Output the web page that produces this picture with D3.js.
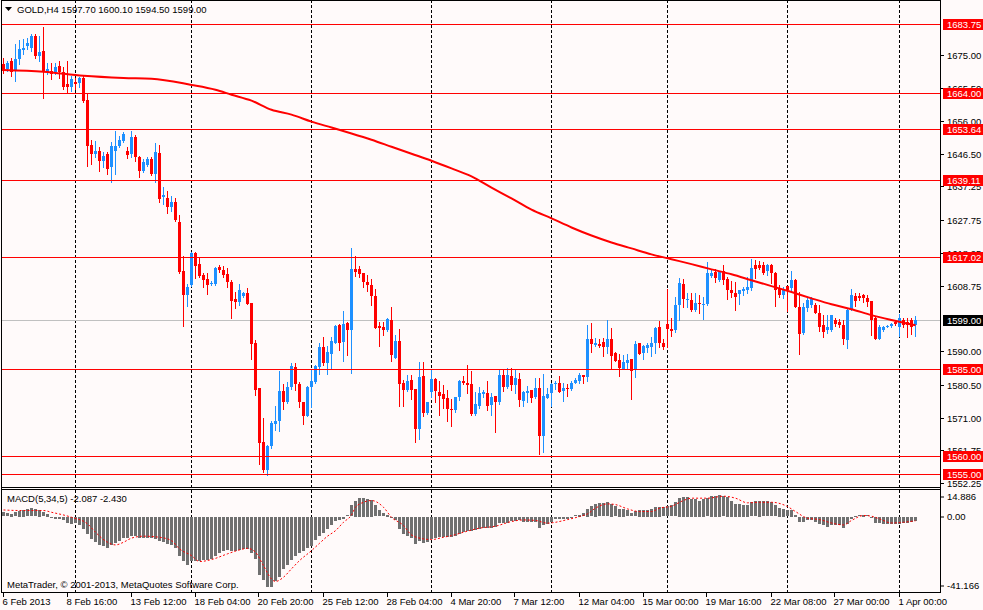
<!DOCTYPE html>
<html>
<head>
<meta charset="utf-8">
<script src="https://cdn.jsdelivr.net/npm/d3@7"></script>
<style>
  body { margin: 0; background: #fffafa; }
  svg { display: block; font-family: "Liberation Sans", Arial, sans-serif; }
</style>
</head>
<body>
<svg id="chart"></svg>
<script>
const width = 983;
const height = 610;

// H4 candles, bar 0 = 6 Feb 2013
const opens = [
  1672.3,1670.8,1673.2,1670.3,1673.7,1676.2,1677.5,1677.0,1680.3,1674.6,
  1676.0,1669.9,1670.3,1669.9,1671.8,1669.9,1666.5,1665.8,1667.2,1666.8,
  1668.4,1662.1,1649.2,1646.6,1647.5,1644.6,1646.4,1642.7,1647.5,1648.9,
  1650.3,1647.5,1646.6,1651.3,1645.6,1641.6,1643.5,1645.1,1640.8,1646.8,
  1634.2,1633.9,1631.3,1632.9,1627.2,1613.0,1606.1,1609.0,1618.2,1615.1,
  1611.8,1610.7,1609.5,1609.2,1614.2,1613.2,1612.1,1609.9,1604.9,1604.2,
  1605.8,1606.6,1603.9,1592.5,1579.4,1564.1,1556.1,1563.0,1569.3,1570.0,
  1578.7,1575.6,1579.9,1585.6,1580.7,1575.4,1571.6,1579.9,1581.3,1585.6,
  1591.2,1586.7,1589.3,1592.5,1597.5,1592.8,1598.2,1596.1,1613.7,1613.5,
  1612.5,1609.9,1609.0,1605.8,1597.3,1597.1,1596.1,1599.0,1588.2,1593.0,
  1580.9,1579.0,1581.8,1579.3,1567.8,1583.0,1572.3,1578.5,1582.1,1578.5,
  1577.8,1576.6,1573.5,1573.1,1576.9,1581.4,1581.0,1580.7,1572.1,1574.4,
  1577.8,1578.2,1574.7,1577.3,1575.4,1583.3,1579.9,1583.0,1580.4,1582.1,
  1575.9,1578.2,1579.0,1577.1,1579.6,1565.7,1576.8,1578.2,1580.7,1581.1,
  1578.8,1579.6,1579.3,1581.1,1581.6,1583.3,1582.8,1593.5,1591.8,1592.1,
  1592.8,1591.2,1593.7,1589.6,1587.5,1585.0,1586.8,1587.8,1584.7,1592.3,
  1589.6,1591.1,1591.3,1592.3,1597.1,1592.5,1597.8,1596.4,1596.1,1603.2,
  1609.4,1604.7,1604.7,1601.8,1603.9,1603.2,1603.5,1611.5,1612.8,1610.4,
  1613.1,1610.6,1607.7,1606.8,1606.4,1607.3,1607.5,1608.3,1614.7,1614.7,
  1614.7,1613.1,1614.7,1612.5,1608.0,1606.1,1608.7,1608.3,1610.4,1602.6,
  1595.2,1602.3,1603.2,1603.2,1601.1,1597.5,1596.1,1596.1,1599.0,1598.5,
  1597.5,1593.3,1601.8,1605.8,1605.8,1606.1,1605.2,1604.5,1599.5,1593.7,
  1596.1,1597.1,1597.3,1598.5,1597.1,1599.0,1598.5,1599.0,1597.7
];
const highs = [
  1674.1,1673.2,1674.1,1678.0,1679.1,1679.4,1679.8,1681.0,1681.0,1680.3,
  1682.9,1672.7,1672.7,1672.7,1673.2,1671.3,1673.2,1668.9,1668.4,1668.6,
  1668.9,1663.7,1650.6,1650.3,1648.4,1647.0,1647.0,1649.9,1653.0,1651.8,
  1652.7,1648.4,1653.0,1652.1,1646.1,1645.1,1645.6,1645.6,1649.6,1649.2,
  1637.2,1635.8,1634.4,1633.8,1629.2,1617.2,1609.4,1618.5,1618.5,1616.9,
  1612.5,1612.5,1610.2,1614.2,1614.7,1614.4,1614.0,1610.4,1607.0,1609.2,
  1607.0,1608.3,1603.9,1593.2,1579.4,1570.9,1563.3,1570.2,1574.4,1584.4,
  1580.7,1581.3,1586.8,1586.6,1581.3,1575.6,1580.1,1584.7,1586.1,1592.3,
  1594.0,1591.5,1594.2,1597.7,1597.8,1601.5,1598.5,1619.6,1617.2,1614.4,
  1612.5,1612.0,1610.6,1608.0,1598.5,1598.5,1599.6,1602.6,1594.7,1596.3,
  1581.8,1583.2,1583.2,1579.3,1586.9,1586.9,1575.4,1585.0,1582.3,1581.4,
  1580.4,1579.0,1576.3,1577.1,1581.8,1583.0,1586.1,1584.4,1578.5,1579.9,
  1579.0,1581.6,1578.2,1577.3,1584.9,1584.7,1585.3,1585.2,1584.9,1583.7,
  1578.7,1580.1,1579.0,1582.3,1582.3,1583.5,1579.5,1580.9,1581.6,1583.0,
  1581.1,1580.7,1581.4,1582.3,1583.9,1583.3,1597.5,1598.2,1593.9,1593.7,
  1593.9,1599.0,1596.6,1589.9,1589.2,1589.0,1589.3,1587.8,1593.1,1592.5,
  1591.8,1592.3,1594.0,1597.1,1598.7,1593.7,1608.0,1599.5,1605.6,1610.9,
  1610.6,1606.6,1606.6,1606.8,1606.1,1605.6,1615.6,1613.7,1613.7,1613.1,
  1614.7,1611.3,1610.2,1609.9,1607.7,1608.5,1611.3,1616.6,1616.3,1615.9,
  1615.6,1615.0,1615.0,1612.8,1609.0,1608.5,1608.7,1613.1,1610.6,1607.1,
  1603.9,1605.6,1605.6,1603.9,1603.2,1600.4,1600.4,1600.4,1599.5,1599.2,
  1599.0,1602.3,1608.0,1606.8,1606.8,1606.4,1606.1,1604.5,1599.9,1597.5,
  1597.3,1597.5,1598.2,1599.0,1600.7,1599.5,1599.5,1599.5,1600.1
];
const lows = [
  1669.8,1670.3,1668.9,1667.5,1672.2,1675.1,1676.5,1676.0,1674.1,1673.2,
  1662.5,1669.4,1668.0,1669.4,1668.4,1665.1,1664.1,1664.6,1665.1,1665.8,
  1661.3,1643.0,1643.7,1645.6,1641.8,1642.7,1640.8,1638.4,1640.8,1648.4,
  1649.9,1645.4,1645.6,1644.6,1639.9,1641.3,1643.2,1640.6,1638.4,1632.7,
  1632.3,1629.6,1630.2,1627.3,1612.5,1597.3,1603.0,1608.6,1610.9,1611.3,
  1608.5,1606.4,1609.0,1609.0,1612.8,1611.3,1608.5,1599.7,1602.3,1603.2,
  1605.6,1603.5,1587.8,1577.6,1557.8,1555.4,1554.7,1562.3,1567.4,1567.3,
  1573.5,1575.2,1579.2,1579.0,1574.2,1569.3,1571.4,1574.2,1580.9,1583.5,
  1586.1,1583.5,1585.3,1592.3,1590.4,1587.3,1589.0,1583.7,1611.5,1611.3,
  1608.5,1607.3,1603.2,1596.6,1591.5,1594.7,1595.9,1587.3,1588.0,1574.5,
  1574.4,1578.8,1576.3,1564.2,1565.0,1571.6,1572.1,1577.1,1575.6,1571.8,
  1573.8,1570.2,1568.7,1572.8,1576.1,1580.7,1578.0,1571.8,1571.8,1573.8,
  1577.1,1573.2,1571.8,1566.8,1575.0,1578.8,1579.4,1579.0,1578.0,1574.5,
  1574.5,1575.6,1575.6,1576.8,1560.7,1561.1,1576.6,1574.4,1579.2,1578.5,
  1575.9,1577.3,1579.0,1580.9,1581.1,1581.1,1581.6,1589.9,1591.5,1591.2,
  1588.7,1589.6,1584.9,1587.3,1583.0,1584.9,1584.9,1576.4,1582.8,1589.3,
  1587.7,1589.9,1588.8,1589.6,1591.3,1590.7,1591.3,1594.4,1595.6,1599.0,
  1602.8,1602.6,1601.6,1601.6,1600.9,1599.3,1603.2,1611.2,1609.9,1610.2,
  1609.4,1604.9,1605.6,1602.0,1603.7,1606.1,1606.8,1607.7,1610.9,1613.7,
  1612.3,1611.8,1609.6,1603.0,1605.6,1605.4,1601.6,1607.7,1602.6,1589.3,
  1595.0,1601.6,1602.6,1600.9,1595.9,1594.0,1595.2,1595.9,1597.3,1597.1,
  1592.1,1590.9,1601.8,1603.0,1604.7,1604.2,1603.0,1594.7,1593.5,1593.5,
  1595.8,1596.9,1597.1,1597.5,1594.4,1597.1,1594.0,1595.0,1594.5
];
const closes = [
  1670.3,1672.7,1669.9,1673.7,1676.5,1677.0,1678.4,1680.3,1674.6,1675.6,
  1670.3,1670.8,1669.4,1671.5,1669.9,1665.8,1665.8,1668.0,1666.5,1668.3,
  1661.8,1648.7,1646.6,1647.5,1644.4,1646.1,1642.3,1648.9,1648.9,1650.5,
  1652.2,1646.3,1651.3,1645.6,1641.6,1644.3,1645.1,1640.8,1647.0,1633.7,
  1634.7,1631.3,1632.9,1627.5,1612.8,1606.1,1608.5,1618.2,1614.4,1611.5,
  1610.4,1609.0,1609.7,1613.9,1613.2,1611.8,1609.9,1604.5,1604.2,1607.5,
  1606.8,1603.5,1592.1,1579.0,1563.9,1556.1,1563.0,1569.6,1570.2,1578.7,
  1575.6,1579.9,1585.8,1580.7,1575.4,1571.6,1579.9,1581.4,1585.8,1591.2,
  1586.6,1589.9,1593.0,1597.3,1592.5,1597.8,1596.1,1613.5,1612.8,1612.1,
  1609.9,1609.0,1605.8,1596.8,1596.8,1596.1,1599.3,1589.0,1593.0,1580.7,
  1579.0,1581.6,1579.0,1567.8,1582.8,1572.3,1575.4,1582.1,1578.8,1577.3,
  1576.3,1573.5,1573.1,1577.1,1581.4,1580.9,1580.4,1572.1,1574.9,1578.0,
  1578.5,1574.4,1577.1,1575.4,1583.3,1579.9,1583.3,1580.4,1582.5,1576.1,
  1578.5,1578.7,1576.8,1579.5,1565.9,1577.3,1577.8,1580.7,1581.1,1578.5,
  1579.6,1579.2,1581.1,1581.8,1583.3,1582.8,1593.5,1592.1,1592.3,1591.5,
  1591.3,1593.7,1588.7,1587.3,1585.4,1587.1,1587.5,1584.5,1592.1,1589.3,
  1591.5,1591.8,1592.5,1596.6,1592.3,1591.3,1596.3,1595.9,1603.2,1609.6,
  1604.9,1604.9,1602.0,1603.9,1603.5,1603.5,1612.5,1612.5,1610.9,1612.8,
  1610.4,1607.7,1606.8,1605.6,1607.5,1608.0,1608.5,1614.0,1613.7,1614.0,
  1612.5,1614.7,1612.5,1607.7,1606.1,1607.5,1607.5,1610.4,1602.6,1595.0,
  1602.6,1604.7,1604.9,1601.1,1596.9,1595.6,1597.1,1600.4,1598.0,1597.5,
  1593.5,1601.8,1606.1,1604.5,1605.2,1605.2,1604.2,1599.0,1593.7,1597.1,
  1597.1,1597.3,1598.0,1597.8,1599.5,1597.5,1597.5,1597.1,1599.0
];

// moving average, read at sample bars
const maIdx = [0,10,20,30,37,47,53,57,62,67,72,77,82,87,92,97,102,107,112,117,122,127,132,137,142,147,152,157,162,167,172,177,182,187,192,197,202,207,212,217,222,228];
const maVal = [1670.6,1670.1,1668.9,1668.3,1668.1,1666.3,1664.9,1663.5,1661.8,1659.2,1657.8,1655.8,1654.1,1652.4,1650.6,1648.6,1646.6,1644.6,1642.4,1640.1,1636.9,1633.8,1630.6,1628.1,1625.5,1623.2,1621.2,1619.5,1617.8,1616.4,1615.0,1613.5,1612.1,1610.4,1608.7,1607.0,1605.2,1603.5,1602.1,1600.4,1599.0,1597.5];

// MACD(5,34,5) main values per bar
const macdHist = [
  2.4,1.9,1.5,2.4,3.2,3.7,4.1,4.7,4.1,3.7,
  2.4,1.5,-0.5,-1.0,-1.3,-1.9,-3.6,-3.7,-3.2,-4.7,
  -6.5,-9.3,-12.5,-14.0,-15.9,-16.3,-17.2,-15.9,-14.8,-13.5,
  -12.0,-11.6,-10.7,-10.7,-11.6,-11.6,-11.6,-11.6,-12.1,-13.5,
  -14.0,-15.3,-15.9,-17.2,-21.9,-24.7,-26.9,-24.7,-24.7,-24.7,
  -24.1,-24.1,-23.7,-21.9,-20.0,-19.1,-18.7,-19.1,-19.1,-18.7,
  -18.1,-18.1,-20.0,-23.4,-32.7,-35.3,-39.3,-39.3,-35.9,-33.5,
  -29.3,-26.9,-24.1,-21.9,-20.0,-19.1,-17.2,-16.3,-12.9,-10.7,
  -8.8,-6.5,-4.7,-2.2,-1.9,-1.3,0.6,6.2,9.0,10.5,
  10.5,9.9,9.3,6.2,3.4,1.9,1.1,-0.7,-1.9,-6.9,
  -9.7,-10.7,-11.6,-15.0,-13.5,-14.4,-14.0,-12.5,-11.6,-11.0,
  -11.0,-11.2,-11.2,-10.7,-9.7,-8.4,-7.9,-7.9,-7.3,-6.5,
  -6.4,-6.0,-6.4,-5.4,-3.6,-3.6,-3.2,-2.2,-2.2,-1.9,
  -2.6,-2.8,-2.8,-2.8,-6.0,-4.7,-4.1,-2.8,-1.3,-1.3,
  -1.3,-1.3,-0.7,0.6,1.1,1.9,4.3,5.8,7.1,7.5,
  7.5,8.0,7.1,5.8,4.3,4.3,3.4,1.9,3.0,3.7,
  3.7,3.9,4.3,5.6,5.6,5.2,5.8,6.2,8.0,10.5,
  11.2,11.2,9.9,9.9,9.0,9.9,10.3,11.8,11.8,12.3,
  11.4,11.2,9.0,7.1,7.1,6.5,6.5,8.0,8.6,9.0,
  8.6,8.6,8.0,6.2,4.9,4.3,3.4,3.7,0.9,-2.6,
  -2.6,-1.9,-1.9,-2.6,-3.7,-4.7,-5.4,-4.7,-4.7,-4.7,
  -6.0,-3.7,-1.3,0.2,0.6,1.1,0.6,-0.7,-3.2,-3.6,
  -4.1,-4.1,-4.1,-3.7,-3.7,-3.2,-3.2,-2.8,-2.1
];
// signal line, read at sample bars
const sigIdx = [0,4,10,12,17,21,23,26,28,30,32,35,39,42,44,47,49,52,56,59,61,63,65,67,68,70,72,74,77,79,81,83,85,87,88,90,92,95,97,100,102,105,107,110,112,115,119,123,127,130,133,136,138,141,144,146,148,151,153,156,159,162,164,167,170,172,176,180,183,186,189,192,196,198,201,204,207,210,212,215,217,219,222,225,228];
const sigVal = [3.7,3.4,3.4,2.4,-0.4,-4.1,-8.8,-14.4,-15.9,-14.4,-12.1,-11.0,-11.6,-13.5,-18.1,-21.9,-25.2,-24.1,-20.9,-18.7,-17.8,-20.0,-27.5,-35.0,-36.4,-34.0,-29.3,-24.7,-19.1,-15.0,-11.0,-7.9,-3.2,0.9,5.2,8.0,9.0,5.2,-0.4,-5.0,-10.3,-12.5,-12.9,-11.6,-10.7,-8.8,-6.5,-5.4,-2.8,-1.9,-2.2,-3.7,-3.2,-1.7,0.0,1.5,4.7,7.1,6.7,4.3,2.8,2.8,4.7,5.8,9.0,10.3,10.3,11.4,10.3,7.7,8.0,8.0,5.6,2.8,-0.9,-1.7,-3.6,-4.7,-2.2,0.6,0.2,-1.3,-3.6,-3.2,-2.4];

const levels = [1683.75, 1664.00, 1653.64, 1639.11, 1617.02, 1585.00, 1560.00, 1555.00];
const bid = 1599.00;
const priceTicks = [1675.00, 1665.50, 1656.00, 1646.50, 1637.25, 1627.75, 1618.25, 1608.75, 1590.00, 1580.50, 1571.00, 1561.75, 1552.25];
const macdTicks = [14.886, 0.00, -41.166];
const macdTickText = ["14.886", "0.00", "-41.166"];

const timeIdx = [0,16,32,48,64,80,96,112,128,144,160,176,192,208,224];
const timeLabels = ["6 Feb 2013","8 Feb 16:00","13 Feb 12:00","18 Feb 04:00","20 Feb 20:00","25 Feb 12:00","28 Feb 04:00","4 Mar 20:00","7 Mar 12:00","12 Mar 04:00","15 Mar 00:00","19 Mar 16:00","22 Mar 08:00","27 Mar 00:00","1 Apr 00:00"];
const gridIdx = [18,47,77,107,137,166,196,224];

const bull = "#1e90ff";
const bear = "#ff0000";

const svg = d3.select("#chart")
    .attr("width", width)
    .attr("height", height)
    .style("background", "#fffafa");

const x = d3.scaleLinear().domain([0, 228]).range([3.5, 915.5]);
const y = d3.scaleLinear().domain([1555, 1683.75]).range([473.7, 24]);
const ym = d3.scaleLinear().domain([-41.166, 14.886]).range([590, 490]);
const crisp = v => Math.round(v) + 0.5;

svg.append("clipPath").attr("id", "mainclip")
    .append("rect").attr("x", 2).attr("y", 1).attr("width", 938).attr("height", 486);
svg.append("clipPath").attr("id", "macdclip")
    .append("rect").attr("x", 2).attr("y", 490).attr("width", 938).attr("height", 102);

const main = svg.append("g").attr("clip-path", "url(#mainclip)");
const sub = svg.append("g").attr("clip-path", "url(#macdclip)");

// weekly dashed grid
[[main, 0, 487], [sub, 490, 592]].forEach(([g, y0, y1]) => {
  g.selectAll(null).data(gridIdx).enter().append("line")
      .attr("x1", d => x(d)).attr("x2", d => x(d))
      .attr("y1", y0).attr("y2", y1)
      .attr("stroke", "#000").attr("stroke-dasharray", "3,2");
});

// bid line
main.append("line")
    .attr("x1", 2).attr("x2", 940)
    .attr("y1", crisp(y(bid))).attr("y2", crisp(y(bid)))
    .attr("stroke", "#c0c0c0");

// candles
const bars = d3.range(opens.length);
const candle = main.selectAll("g.c").data(bars).enter().append("g")
    .attr("fill", i => closes[i] >= opens[i] ? bull : bear)
    .attr("stroke", i => closes[i] >= opens[i] ? bull : bear);
candle.append("line")
    .attr("x1", i => x(i)).attr("x2", i => x(i))
    .attr("y1", i => Math.round(y(highs[i]))).attr("y2", i => Math.round(y(lows[i])) + 1);
candle.append("rect")
    .attr("stroke", "none")
    .attr("shape-rendering", "crispEdges")
    .attr("x", i => x(i) - 1.5)
    .attr("width", 3)
    .attr("y", i => Math.round(y(Math.max(opens[i], closes[i]))))
    .attr("height", i => Math.max(1, Math.round(y(Math.min(opens[i], closes[i]))) - Math.round(y(Math.max(opens[i], closes[i])))));

// horizontal levels
main.selectAll("line.lvl").data(levels).enter().append("line")
    .attr("x1", 2).attr("x2", 940)
    .attr("y1", d => crisp(y(d))).attr("y2", d => crisp(y(d)))
    .attr("stroke", "#ff0000");

// moving average
main.append("path")
    .datum(maIdx)
    .attr("fill", "none")
    .attr("stroke", "#ff0000")
    .attr("stroke-width", 2)
    .attr("d", d3.line().x(i => x(i)).y((i, k) => y(maVal[k])).curve(d3.curveMonotoneX));

// MACD histogram
sub.selectAll("rect").data(macdHist).enter().append("rect")
    .attr("shape-rendering", "crispEdges")
    .attr("fill", "#707070")
    .attr("x", (d, i) => x(i) - 1.5)
    .attr("width", 3)
    .attr("y", d => Math.round(Math.min(ym(d), ym(0))))
    .attr("height", d => Math.max(1, Math.round(Math.abs(ym(d) - ym(0)))));

sub.append("path")
    .datum(sigIdx)
    .attr("fill", "none")
    .attr("stroke", "#ff0000")
    .attr("stroke-dasharray", "2,2")
    .attr("d", d3.line().x(i => x(i)).y((i, k) => ym(sigVal[k])).curve(d3.curveMonotoneX));

// frames
const frame = svg.append("g").attr("stroke", "#000").attr("shape-rendering", "crispEdges");
frame.append("line").attr("x1", 1.5).attr("x2", 1.5).attr("y1", 0).attr("y2", 593);
frame.append("line").attr("x1", 940.5).attr("x2", 940.5).attr("y1", 0).attr("y2", 593);
frame.append("line").attr("x1", 1).attr("x2", 941).attr("y1", 0.5).attr("y2", 0.5);
frame.append("line").attr("x1", 1).attr("x2", 941).attr("y1", 487.5).attr("y2", 487.5);
frame.append("line").attr("x1", 1).attr("x2", 941).attr("y1", 489.5).attr("y2", 489.5);
frame.append("line").attr("x1", 1).attr("x2", 941).attr("y1", 592.5).attr("y2", 592.5);

// price axis
const pax = svg.append("g").attr("font-size", "9.5px");
pax.selectAll("g").data(priceTicks).enter().append("g")
    .attr("transform", d => "translate(0," + crisp(y(d)) + ")")
    .call(g => g.append("line").attr("x1", 941).attr("x2", 944).attr("stroke", "#000"))
    .call(g => g.append("text").attr("x", 947).attr("dy", "0.35em").text(d => d.toFixed(2)));

const boxes = levels.map(v => ({ v: v, fill: "#ff0000" })).concat([{ v: bid, fill: "#000" }]);
const box = pax.selectAll("g.box").data(boxes).enter().append("g")
    .attr("transform", d => "translate(0," + crisp(y(d.v)) + ")");
box.append("rect").attr("x", 943).attr("y", -5.5).attr("width", 40).attr("height", 11)
    .attr("fill", d => d.fill);
box.append("text").attr("x", 947).attr("dy", "0.35em").attr("fill", "#fff").text(d => d.v.toFixed(2));

// MACD axis
pax.selectAll("g.m").data(macdTicks).enter().append("g")
    .attr("transform", (d, i) => "translate(0," + [497, 517, 586][i] + ")")
    .call(g => g.append("line").attr("x1", 941).attr("x2", 944).attr("stroke", "#000"))
    .call(g => g.append("text").attr("x", 947).attr("dy", "0.35em").text((d, i) => macdTickText[i]));

// time axis
const tax = svg.append("g").attr("font-size", "9.5px");
tax.selectAll("g").data(timeIdx).enter().append("g")
    .attr("transform", d => "translate(" + (Math.round(x(d)) - 0.5) + ",0)")
    .call(g => g.append("line").attr("y1", 593).attr("y2", 597).attr("stroke", "#000"))
    .call(g => g.append("text").attr("x", -1).attr("y", 605).text((d, i) => timeLabels[i]));

// captions
svg.append("path").attr("d", "M5,7 L12,7 L8.5,11 Z").attr("fill", "#000");
svg.append("text").attr("x", 17).attr("y", 13).attr("font-size", "9.5px")
    .text("GOLD,H4  1597.70 1600.10 1594.50 1599.00");
svg.append("text").attr("x", 7).attr("y", 502).attr("font-size", "9.5px")
    .text("MACD(5,34,5) -2.087 -2.430");
svg.append("text").attr("x", 7).attr("y", 588).attr("font-size", "9.5px")
    .text("MetaTrader, © 2001-2013, MetaQuotes Software Corp.");
</script>
</body>
</html>
